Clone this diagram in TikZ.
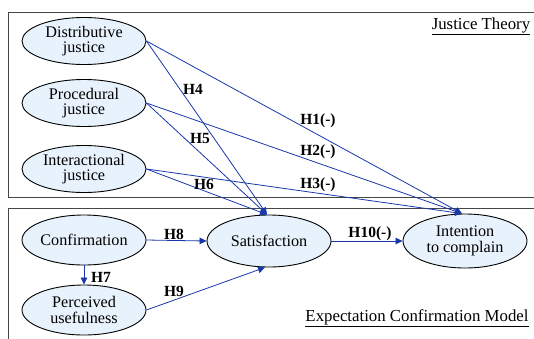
\documentclass[tikz,border=0pt]{standalone}
\usepackage{fontspec}
\setmainfont{Liberation Serif}
\usetikzlibrary{shapes.geometric,arrows.meta}
\definecolor{linkblue}{RGB}{25,55,170}
\definecolor{ellfill}{RGB}{232,242,252}
\definecolor{framegrey}{RGB}{70,70,70}
\tikzset{
  concept/.style={ellipse, draw=black, line width=0.9pt, fill=ellfill,
    minimum width=124pt, minimum height=48pt, inner sep=0pt, align=center,
    font=\fontsize{16.2}{15.5}\selectfont},
  link/.style={draw=linkblue, line width=0.8pt, -{Triangle[length=7pt,width=6.5pt]}},
  hyp/.style={font=\bfseries\fontsize{15.5}{15.5}\selectfont, inner sep=0pt},
  frame/.style={draw=framegrey, line width=0.9pt},
  ttl/.style={font=\fontsize{16.8}{16.8}\selectfont, inner sep=0pt}
}
\begin{document}
\begin{tikzpicture}[x=1pt,y=-1pt]
\useasboundingbox (0,0) rectangle (534,338);
\draw[frame] (540,12) -- (8,12) -- (8,197) -- (540,197);
\draw[frame] (540,208) -- (8,208) -- (8,345);
\node[ttl] (jt) at (481,26) {\underline{Justice Theory}};
\node[ttl] (ecm) at (417,318) {\underline{Expectation Confirmation Model}};

\node[concept, minimum height=47pt] (dj) at (84,41) {Distributive\\justice};
\node[concept, minimum height=47pt] (pj) at (84,103) {Procedural\\justice};
\node[concept, minimum height=47pt] (ij) at (84,169) {Interactional\\justice};
\node[concept, minimum height=50pt] (cf) at (84,240) {Confirmation};
\node[concept, minimum height=50pt] (pu) at (84,310) {Perceived\\usefulness};
\node[concept, minimum height=52pt] (sat) at (269,241) {Satisfaction};
\node[concept, minimum height=54pt] (itc) at (465,241) {Intention\\to complain};

\coordinate (satt) at ([xshift=-2pt]sat.north);
\coordinate (itct) at ([xshift=-3pt]itc.north);
\draw[link] (dj.east) -- (satt);
\draw[link] (pj.east) -- (satt);
\draw[link] (ij.east) -- (satt);
\draw[link] (dj.east) -- (itct);
\draw[link] (pj.east) -- (itct);
\draw[link] (ij.east) -- (itct);
\draw[link] (cf.east) -- (sat.west);
\draw[link] (cf.south) -- (pu.north);
\draw[link] (pu.east) -- ([xshift=-4pt]sat.south);
\draw[link] (sat.east) -- (itc.west);

\node[hyp] (h4) at (193,89) {H4};
\node[hyp] (h5) at (200,138) {H5};
\node[hyp] (h6) at (204,184) {H6};
\node[hyp] (h1) at (318,121) {H1(-)};
\node[hyp] (h2) at (318,152) {H2(-)};
\node[hyp] (h3) at (318,185) {H3(-)};
\node[hyp] (h8) at (174,234) {H8};
\node[hyp] (h7) at (101,277) {H7};
\node[hyp] (h9) at (174,291) {H9};
\node[hyp] (h10) at (370,234) {H10(-)};
\end{tikzpicture}
\end{document}
